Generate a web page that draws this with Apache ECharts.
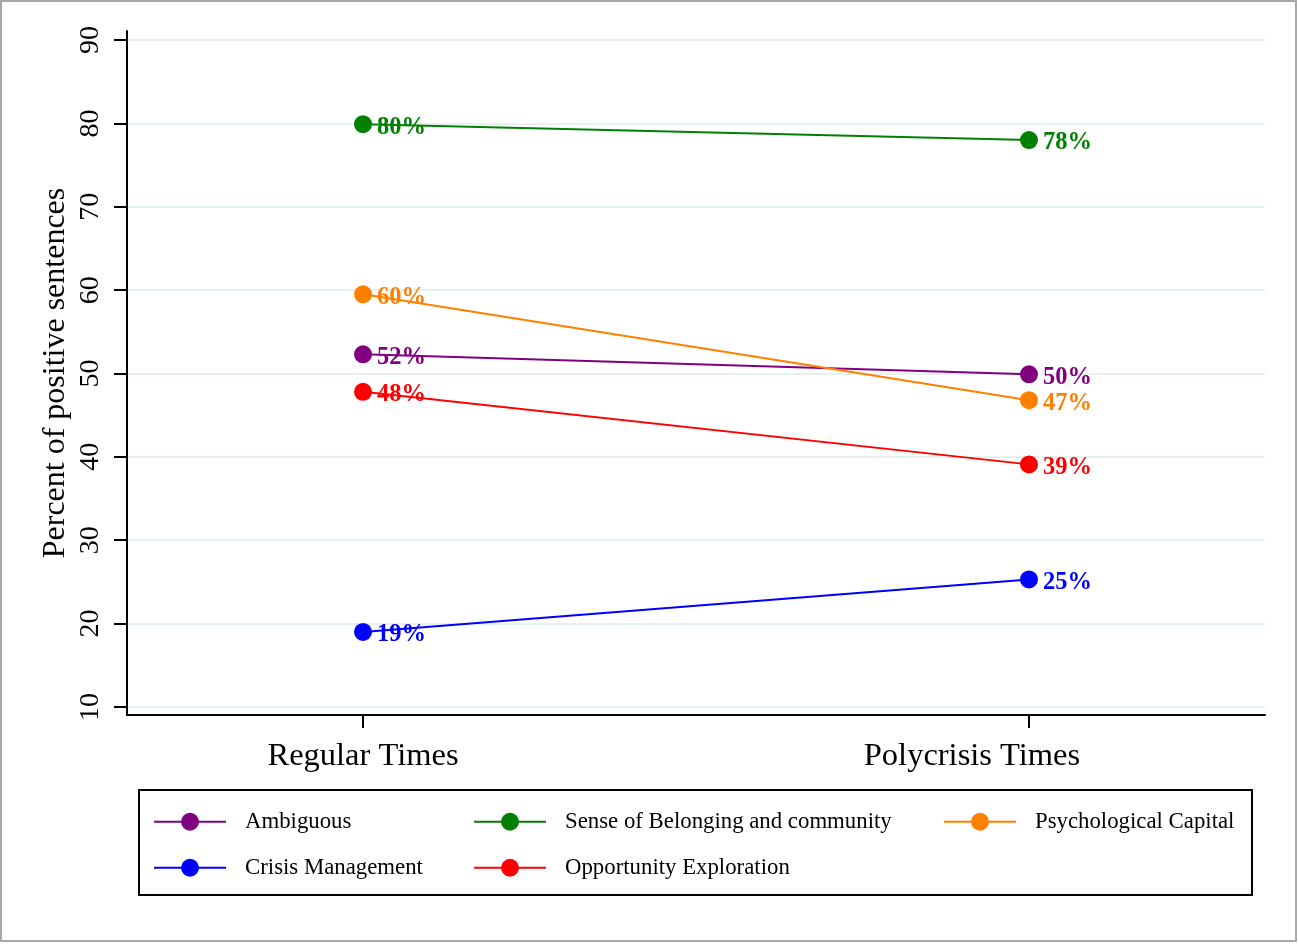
<!DOCTYPE html>
<html><head><meta charset="utf-8">
<script src="https://cdn.jsdelivr.net/npm/echarts@6/dist/echarts.min.js"></script>
<style>html,body{margin:0;padding:0;background:#fff}#c{width:1298px;height:944px}</style>
</head><body><div id="c"></div>
<script>
const categories = ['Regular Times', 'Polycrisis Times'];
const yTicks = [10, 20, 30, 40, 50, 60, 70, 80, 90];
const seriesNames = ['Ambiguous', 'Sense of Belonging and community', 'Psychological Capital', 'Crisis Management', 'Opportunity Exploration'];
const ambiguous = [52.3, 49.9];
const belonging = [79.9, 78.0];
const psychCapital = [59.5, 46.8];
const crisisMgmt = [19.0, 25.3];
const opportunity = [47.8, 39.1];
const colors = ['#800080', '#008000', '#ff8000', '#0000ff', '#ff0000'];
const values = [ambiguous, belonging, psychCapital, crisisMgmt, opportunity];

const FONT = '"Liberation Serif","Times New Roman",serif';
const xPos = [1, 2];

const series = seriesNames.map((n, i) => ({
  name: n, type: 'line',
  data: values[i].map((v, j) => [xPos[j], v]),
  symbol: 'circle', symbolSize: 18,
  lineStyle: { color: colors[i], width: 2 },
  itemStyle: { color: colors[i] },
  label: { show: true, position: 'right', distance: 5, offset: [0, 3], color: colors[i],
    fontFamily: FONT, fontWeight: 'bold', fontSize: 24.5,
    formatter: p => Math.round(p.value[1]) + '%' },
  emphasis: { disabled: true },
  animation: false
}));

// legend layout: 3 columns, 2 rows
const legCols = [153, 473, 943];
const legRows = [821, 867];
const legends = seriesNames.map((n, i) => ({
  data: [n],
  left: legCols[i % 3],
  top: legRows[Math.floor(i / 3)] - 11.25 + 0.5,
  itemWidth: 72, itemHeight: 22.5,
  padding: 0,
  selectedMode: false,
  textStyle: { fontFamily: FONT, fontSize: 22.8, color: '#000', padding: [0, 0, 0, 14] }
}));

const chart = echarts.init(document.getElementById('c'), null, { renderer: 'canvas' });
chart.setOption({
  backgroundColor: '#fff',
  animation: false,
  grid: { left: 127, right: 33, top: 31, bottom: 229, containLabel: false },
  xAxis: {
    type: 'value', min: 0.6456, max: 2.3544,
    axisLine: { show: true, onZero: false, lineStyle: { color: '#000', width: 2 } },
    axisTick: { show: true, customValues: xPos, length: 13, lineStyle: { color: '#000', width: 2 } },
    axisLabel: { show: true, customValues: xPos, margin: 25, fontFamily: FONT, fontSize: 32.5, color: '#000',
      formatter: v => { const k = xPos.indexOf(v); if (k < 0) return ''; return k === 1 ? '{b|' + categories[k] + '}' : '{a|' + categories[k] + '}'; },
      rich: { a: { fontFamily: FONT, fontSize: 32.5, color: '#000' },
              b: { fontFamily: FONT, fontSize: 32.5, color: '#000', padding: [0, 114, 0, 0] } } },
    splitLine: { show: false }
  },
  yAxis: {
    type: 'value', min: 9.04, max: 91.08,
    name: 'Percent of positive sentences', nameLocation: 'middle', nameGap: 55, nameRotate: 90,
    nameMoveOverlap: false,
    nameTextStyle: { fontFamily: FONT, fontSize: 32, color: '#000' },
    axisLine: { show: true, lineStyle: { color: '#000', width: 2 } },
    axisTick: { show: true, customValues: yTicks, length: 13, lineStyle: { color: '#000', width: 2 } },
    axisLabel: { show: true, customValues: yTicks, rotate: 90, margin: 22, fontFamily: FONT, fontSize: 28, color: '#000' },
    splitLine: { show: true, lineStyle: { color: '#e8f1f2', width: 2 } }
  },
  legend: legends,
  graphic: [
    { type: 'rect', shape: { x: 1, y: 1, width: 1295, height: 940 }, style: { fill: 'none', stroke: '#a8a8a8', lineWidth: 2 }, silent: true, z: -1 },
    { type: 'rect', shape: { x: 139, y: 790, width: 1113, height: 105 }, style: { fill: 'none', stroke: '#000', lineWidth: 2 }, silent: true }
  ],
  series: series
});
</script></body></html>
